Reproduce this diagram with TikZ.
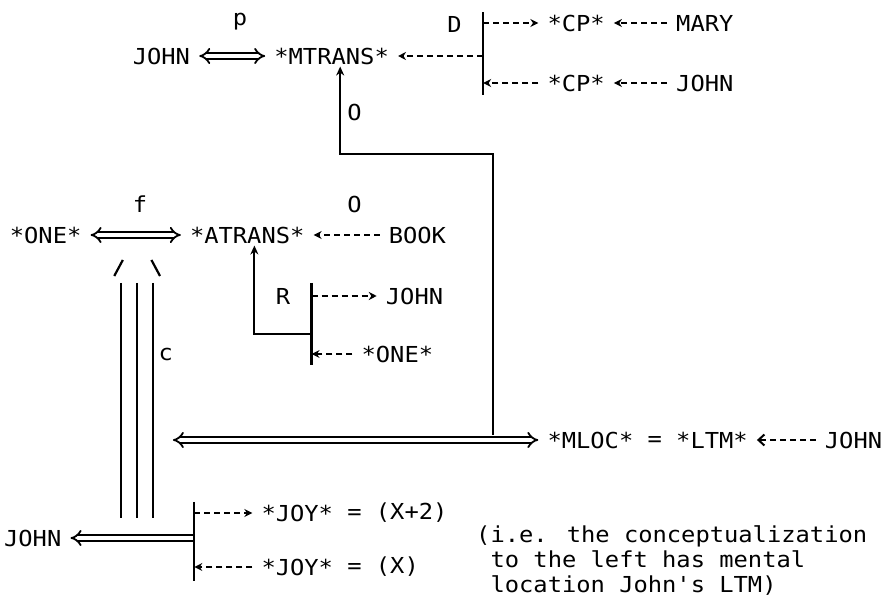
\documentclass[tikz,border=0pt]{standalone}
\usepackage{fontspec}
\newfontfamily\dotmono[FakeStretch=1.08]{DejaVu Sans Mono}
\usetikzlibrary{arrows.meta}

\begin{document}
\begin{tikzpicture}[x=14.3pt, y=-1pt,
  font=\dotmono\fontsize{22}{25}\selectfont,
  word/.style={inner xsep=9pt, inner ysep=2pt},
  lbl/.style={inner sep=0pt},
  dbl/.style={double, double distance=3.6pt, line width=1.8pt, {Implies}-{Implies}},
  arr/.style={dash pattern=on 6pt off 4pt, line width=2pt, -{Stealth[length=8pt, width=8pt]}},
  arrb/.style={dash pattern=on 6pt off 4pt, line width=2pt, -{Straight Barb[length=6pt, width=11pt]}},
  bar/.style={line width=2.2pt}]
\useasboundingbox (-9.79,0) rectangle (51.96,606);
% mental transfer
\node[word] (john1) at (1.5,56) {JOHN};
\node[word] (mtrans) at (13.4,56) {*MTRANS*};
\node[lbl] (p) at (7,22) {p};
\node[lbl] (d) at (22,24) {D};
\node[word] (cp1) at (30.5,23) {*CP*};
\node[word] (mary) at (39.5,23) {MARY};
\node[word] (cp2) at (30.5,83) {*CP*};
\node[word] (john2) at (39.5,83) {JOHN};
\coordinate (dtop) at (24,12);
\coordinate (dbot) at (24,95);
\coordinate (dA) at (24,23);
\coordinate (dmid) at (24,56);
\coordinate (dC) at (24,83);
\draw[dbl] (john1) -- (mtrans);
\draw[bar] (dtop) -- (dbot);
\draw[arr] (dmid) -- (mtrans);
\draw[arr] (dA) -- (cp1);
\draw[arr] (mary) -- (cp1);
\draw[arr] (cp2) -- (dC);
\draw[arr] (john2) -- (cp2);
% object of the MTRANS
\node[lbl] (o1) at (15,112) {O};
\coordinate (ob1) at (14,154);
\coordinate (ob2) at (24.7,154);
\coordinate (mtop) at (24.7,435);
\draw[bar, -{Stealth[length=9pt, width=8pt]}] (mtop) -- (ob2) -- (ob1) -- (ob1 |- mtrans.south);
% the giving of the book
\node[lbl] (f) at (0,204) {f};
\node[lbl] (o2) at (15,204) {O};
\node[word] (one1) at (-6.6,235) {*ONE*};
\node[word] (atrans) at (7.5,235) {*ATRANS*};
\node[word] (book) at (19.4,235) {BOOK};
\draw[dbl] (one1) -- (atrans);
\draw[arr] (book) -- (atrans);
% recipient
\node[lbl] (r) at (10,296) {R};
\node[word] (john3) at (19.2,296) {JOHN};
\node[word] (one2) at (18,354) {*ONE*};
\coordinate (rl) at (8,334);
\coordinate (rr) at (12,334);
\coordinate (rtop) at (12,283);
\coordinate (rbot) at (12,365);
\coordinate (rA) at (12,296);
\coordinate (rB) at (12,354);
\draw[bar, -{Stealth[length=9pt, width=8pt]}] (rr) -- (rl) -- (rl |- atrans.south);
\draw[bar] (rtop) -- (rbot);
\draw[arr] (rA) -- (john3);
\draw[arr] (one2) -- (rB);
% causal link
\coordinate (ctop) at (-0.2,283);
\coordinate (cbot) at (-0.2,518);
\coordinate (cl) at (-1.5,268);
\coordinate (cr) at (1.1,268);
\foreach \dx in {-16,0,16}
  \draw[bar] ([xshift=\dx pt]ctop) -- ([xshift=\dx pt]cbot);
\draw[bar] ([shift={(-0.3,8)}]cl) -- ([shift={(0.3,-8)}]cl);
\draw[bar] ([shift={(-0.3,-8)}]cr) -- ([shift={(0.3,8)}]cr);
\node[lbl] (c) at (1.8,354) {c};
% mental location
\coordinate (mlocl) at (2.3,440);
\node[word] (mloc) at (31.5,440) {*MLOC*};
\node[lbl] (eq1) at (36,442) {=};
\node[word] (ltm) at (40,440) {*LTM*};
\node[word] (john4) at (49.9,440) {JOHN};
\draw[dbl] (mlocl) -- (mloc);
\draw[arrb] (john4) -- (ltm);
% joy
\node[word] (john5) at (-7.5,538) {JOHN};
\coordinate (jm) at (3.8,538);
\coordinate (jt) at (3.8,502);
\coordinate (jb) at (3.8,581);
\coordinate (jA) at (3.8,513);
\coordinate (jB) at (3.8,567);
\node[word] (joy1) at (11,513) {*JOY*};
\node[lbl] (eq2) at (15,515) {=};
\node[word] (x2) at (19,513) {(X+2)};
\node[word] (joy2) at (11,567) {*JOY*};
\node[lbl] (eq3) at (15,569) {=};
\node[word] (x1) at (18,567) {(X)};
\draw[dbl, {Implies}-] (john5) -- (jm);
\draw[bar] (jt) -- (jb);
\draw[arr] (jA) -- (joy1);
\draw[arr] (joy2) -- (jB);
\node[lbl, anchor=north west, align=left] (note) at (23.5,525) {(i.e. the conceptualization\\\phantom{(}to the left has mental\\\phantom{(}location John's LTM)};
\end{tikzpicture}
\end{document}
